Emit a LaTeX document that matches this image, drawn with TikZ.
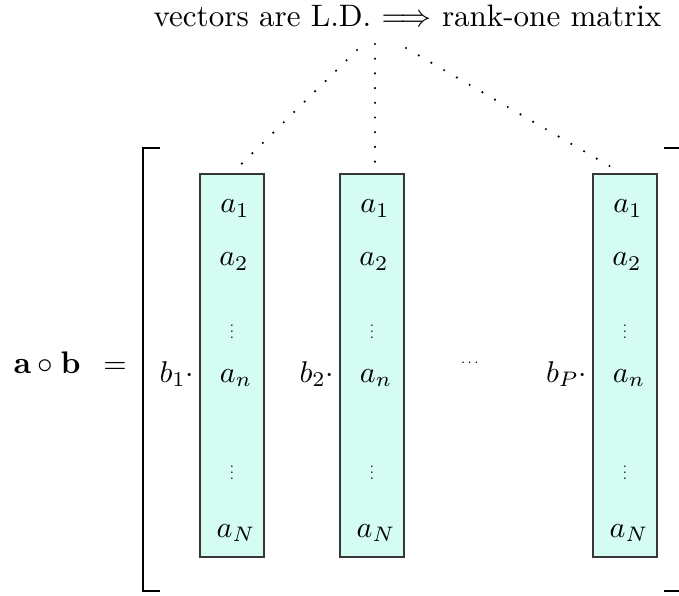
\documentclass[tikz,border=0pt]{standalone}
\usepackage{amsmath,amssymb}
\usepackage{graphicx}
\definecolor{boxfill}{RGB}{213,252,242}
\definecolor{boxline}{RGB}{55,55,55}
\begin{document}
\begin{tikzpicture}[x=0.3333pt,y=-0.3333pt,
  colbox/.style={draw=boxline, fill=boxfill, line width=0.45pt,
    minimum width=21.33pt, minimum height=127.67pt, inner sep=0pt},
  entry/.style={anchor=base, inner sep=0pt},
  vdot/.style={anchor=center, inner sep=0pt},
  blabel/.style={anchor=base east, inner sep=0pt},
  brk/.style={line width=0.7pt},
  link/.style={line width=0.8pt, dash pattern=on 0pt off 4.9pt, line cap=round}]
\useasboundingbox (0,0) rectangle (679,596);
\clip (0,0) rectangle (679,596);

% title
\node[anchor=base west, inner sep=0pt] (title) at (153,27)
  {\scalebox{1.035}{vectors are L.D. $\Longrightarrow$ rank-one matrix}};

% left-hand side
\node[anchor=base west, inner sep=0pt] (ab) at (13,373) {\scalebox{1.04}{$\mathbf{a}\circ\mathbf{b}$}};
\node[anchor=base, inner sep=0pt] (eq) at (115,373) {$=$};

% brackets
\draw[brk] (160,148) -- (143,148) -- (143,591) -- (160,591);
\draw[brk] (664,148) -- (681,148) -- (681,591) -- (664,591);

% column boxes
\foreach \i/\cx/\lab in {1/232/b_1, 2/372/b_2, 3/625/b_P}{
  \node[colbox] (box\i) at (\cx,365.5) {};
  \node[entry] (a1-\i) at (\cx+3,213) {$a_1$};
  \node[entry] (a2-\i) at (\cx+2,266) {$a_2$};
  \node[vdot] (v1-\i) at (\cx,327) {\scalebox{0.5}{$\vdots$}};
  \node[entry] (an-\i) at (\cx+4,382) {$a_n$};
  \node[vdot] (v2-\i) at (\cx,468) {\scalebox{0.5}{$\vdots$}};
  \node[entry] (aN-\i) at (\cx+4,537) {$a_N$};
  \node[blabel] (bl-\i) at ([xshift=-1.5pt]box\i.west |- 0,382) {$\lab\cdot$};
}

% horizontal dots between columns
\node[inner sep=0pt] (hdots) at (471,363) {\scalebox{0.5}{$\cdots$}};

% dotted links
\coordinate (t1) at (357,50);
\coordinate (t2) at (375,44);
\coordinate (t3) at (406,48);
\draw[link] (t1) -- (box1.north);
\draw[link] (t2) -- ([xshift=1pt]box2.north);
\draw[link] (t3) -- ([xshift=-1pt]box3.north);
\end{tikzpicture}
\end{document}
